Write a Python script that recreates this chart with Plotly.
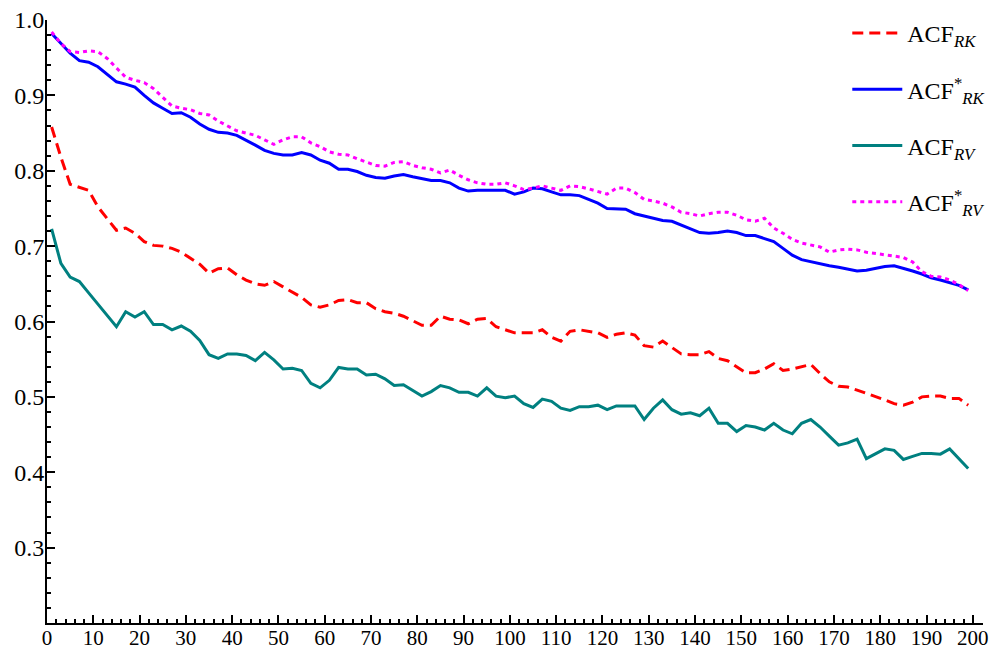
import plotly.graph_objects as go

lags = list(range(1, 200, 2))

acf_rk = [0.858, 0.818, 0.782, 0.778, 0.774, 0.752, 0.737, 0.721, 0.724, 0.717,
          0.706, 0.701, 0.700, 0.697, 0.692, 0.684, 0.676, 0.664, 0.670, 0.671,
          0.662, 0.655, 0.650, 0.648, 0.653, 0.646, 0.639, 0.632, 0.622, 0.619,
          0.622, 0.628, 0.629, 0.625, 0.625, 0.617, 0.613, 0.611, 0.607, 0.601,
          0.595, 0.595, 0.607, 0.603, 0.602, 0.597, 0.603, 0.604, 0.593, 0.589,
          0.585, 0.585, 0.585, 0.589, 0.579, 0.574, 0.587, 0.589, 0.587, 0.585,
          0.579, 0.583, 0.585, 0.582, 0.568, 0.566, 0.574, 0.565, 0.557, 0.556,
          0.556, 0.560, 0.551, 0.548, 0.540, 0.532, 0.532, 0.537, 0.544, 0.535,
          0.537, 0.540, 0.543, 0.531, 0.520, 0.514, 0.513, 0.509, 0.505, 0.501,
          0.496, 0.491, 0.489, 0.493, 0.500, 0.501, 0.501, 0.498, 0.498, 0.489]

acf_rk_star = [0.982, 0.969, 0.956, 0.946, 0.944, 0.938, 0.928, 0.918, 0.915, 0.911,
               0.900, 0.890, 0.883, 0.876, 0.877, 0.871, 0.862, 0.855, 0.851, 0.850,
               0.847, 0.841, 0.834, 0.827, 0.823, 0.821, 0.821, 0.824, 0.821, 0.814,
               0.810, 0.802, 0.802, 0.799, 0.794, 0.791, 0.790, 0.793, 0.795, 0.792,
               0.790, 0.787, 0.787, 0.784, 0.777, 0.773, 0.774, 0.774, 0.773, 0.774,
               0.769, 0.772, 0.777, 0.776, 0.772, 0.768, 0.768, 0.767, 0.762, 0.757,
               0.750, 0.750, 0.749, 0.743, 0.740, 0.737, 0.734, 0.733, 0.728, 0.722,
               0.718, 0.717, 0.718, 0.720, 0.718, 0.714, 0.714, 0.710, 0.706, 0.697,
               0.688, 0.682, 0.679, 0.676, 0.674, 0.672, 0.669, 0.667, 0.668, 0.671,
               0.673, 0.674, 0.671, 0.667, 0.663, 0.658, 0.655, 0.652, 0.648, 0.642]

acf_rv = [0.723, 0.677, 0.659, 0.653, 0.638, 0.623, 0.608, 0.593, 0.613, 0.606,
          0.613, 0.596, 0.596, 0.589, 0.594, 0.587, 0.575, 0.556, 0.551, 0.557,
          0.557, 0.555, 0.548, 0.559, 0.549, 0.537, 0.538, 0.535, 0.518, 0.512,
          0.522, 0.539, 0.537, 0.537, 0.529, 0.530, 0.524, 0.515, 0.516, 0.509,
          0.501, 0.507, 0.515, 0.512, 0.506, 0.506, 0.501, 0.512, 0.501, 0.499,
          0.501, 0.491, 0.486, 0.497, 0.494, 0.485, 0.482, 0.487, 0.487, 0.489,
          0.483, 0.488, 0.488, 0.488, 0.470, 0.485, 0.496, 0.483, 0.477, 0.479,
          0.475, 0.485, 0.465, 0.465, 0.454, 0.462, 0.460, 0.456, 0.465, 0.456,
          0.451, 0.465, 0.470, 0.460, 0.448, 0.436, 0.439, 0.444, 0.418, 0.425,
          0.431, 0.429, 0.417, 0.421, 0.425, 0.425, 0.424, 0.431, 0.418, 0.405]

acf_rv_star = [0.984, 0.969, 0.958, 0.957, 0.959, 0.958, 0.949, 0.936, 0.924, 0.920,
               0.917, 0.909, 0.898, 0.886, 0.883, 0.881, 0.876, 0.874, 0.866, 0.859,
               0.853, 0.850, 0.847, 0.841, 0.835, 0.841, 0.845, 0.845, 0.837, 0.832,
               0.825, 0.822, 0.821, 0.816, 0.811, 0.807, 0.806, 0.811, 0.812, 0.807,
               0.804, 0.802, 0.797, 0.801, 0.794, 0.788, 0.784, 0.782, 0.782, 0.784,
               0.780, 0.775, 0.777, 0.780, 0.777, 0.774, 0.780, 0.779, 0.776, 0.772,
               0.769, 0.777, 0.777, 0.771, 0.762, 0.760, 0.757, 0.752, 0.745, 0.743,
               0.740, 0.743, 0.745, 0.745, 0.741, 0.735, 0.733, 0.737, 0.724, 0.717,
               0.709, 0.704, 0.701, 0.699, 0.692, 0.695, 0.696, 0.695, 0.692, 0.690,
               0.688, 0.687, 0.685, 0.679, 0.666, 0.660, 0.659, 0.655, 0.649, 0.641]

series_names = ["ACF<sub><i>RK</i></sub>", "ACF<sup>*</sup><sub><i>RK</i></sub>",
                "ACF<sub><i>RV</i></sub>", "ACF<sup>*</sup><sub><i>RV</i></sub>"]
x_ticks = list(range(0, 201, 10))
y_ticks = [0.3, 0.4, 0.5, 0.6, 0.7, 0.8, 0.9, 1.0]

styles = [
    dict(color="#FF0000", width=3, dash="11px,6px"),
    dict(color="#0000FF", width=3, dash="solid"),
    dict(color="#008080", width=3, dash="solid"),
    dict(color="#FF00FF", width=3, dash="4px,4px"),
]

fig = go.Figure()
for i, (name, ys) in enumerate(zip(series_names, [acf_rk, acf_rk_star, acf_rv, acf_rv_star])):
    fig.add_trace(go.Scatter(x=lags, y=ys, mode="lines", name=name,
                             line=styles[i], legendgroup=str(i)))

font_family = "Liberation Serif, Times New Roman, serif"
fig.update_layout(
    width=995, height=649,
    margin=dict(l=47, r=12, t=20, b=26, autoexpand=False),
    plot_bgcolor="white", paper_bgcolor="white",
    font=dict(family=font_family, size=24, color="black"),
    showlegend=True,
    legend=dict(x=0.855, y=1.015, xanchor="left", yanchor="top",
                font=dict(family=font_family, size=24, color="black"),
                bgcolor="rgba(0,0,0,0)", tracegroupgap=22, traceorder="grouped",
                itemwidth=50),
    xaxis=dict(range=[0, 202.2], tickmode="array", tickvals=x_ticks,
               ticktext=[str(v) for v in x_ticks], automargin=False,
               showgrid=False, zeroline=False, showline=True, linecolor="black",
               linewidth=2, ticks="inside", ticklen=8, tickwidth=1.5, tickcolor="black",
               ticklabelstandoff=-5,
               minor=dict(tickmode="linear", tick0=0, dtick=2, ticks="inside",
                          ticklen=4, tickwidth=1.5, tickcolor="black"),
               tickfont=dict(size=21)),
    yaxis=dict(range=[0.2, 1.0], tickmode="array", tickvals=y_ticks,
               ticktext=[f"{v:.1f}" for v in y_ticks], automargin=False,
               showgrid=False, zeroline=False, showline=True, linecolor="black",
               linewidth=2, ticks="inside", ticklen=8, tickwidth=1.5, tickcolor="black",
               ticklabelstandoff=-4,
               minor=dict(tickmode="linear", tick0=0.2, dtick=0.02, ticks="inside",
                          ticklen=4, tickwidth=1.5, tickcolor="black"),
               tickfont=dict(size=24)),
)

fig.write_html("out.html", config={"displayModeBar": False},
               post_script="document.body.style.margin='0px';")
